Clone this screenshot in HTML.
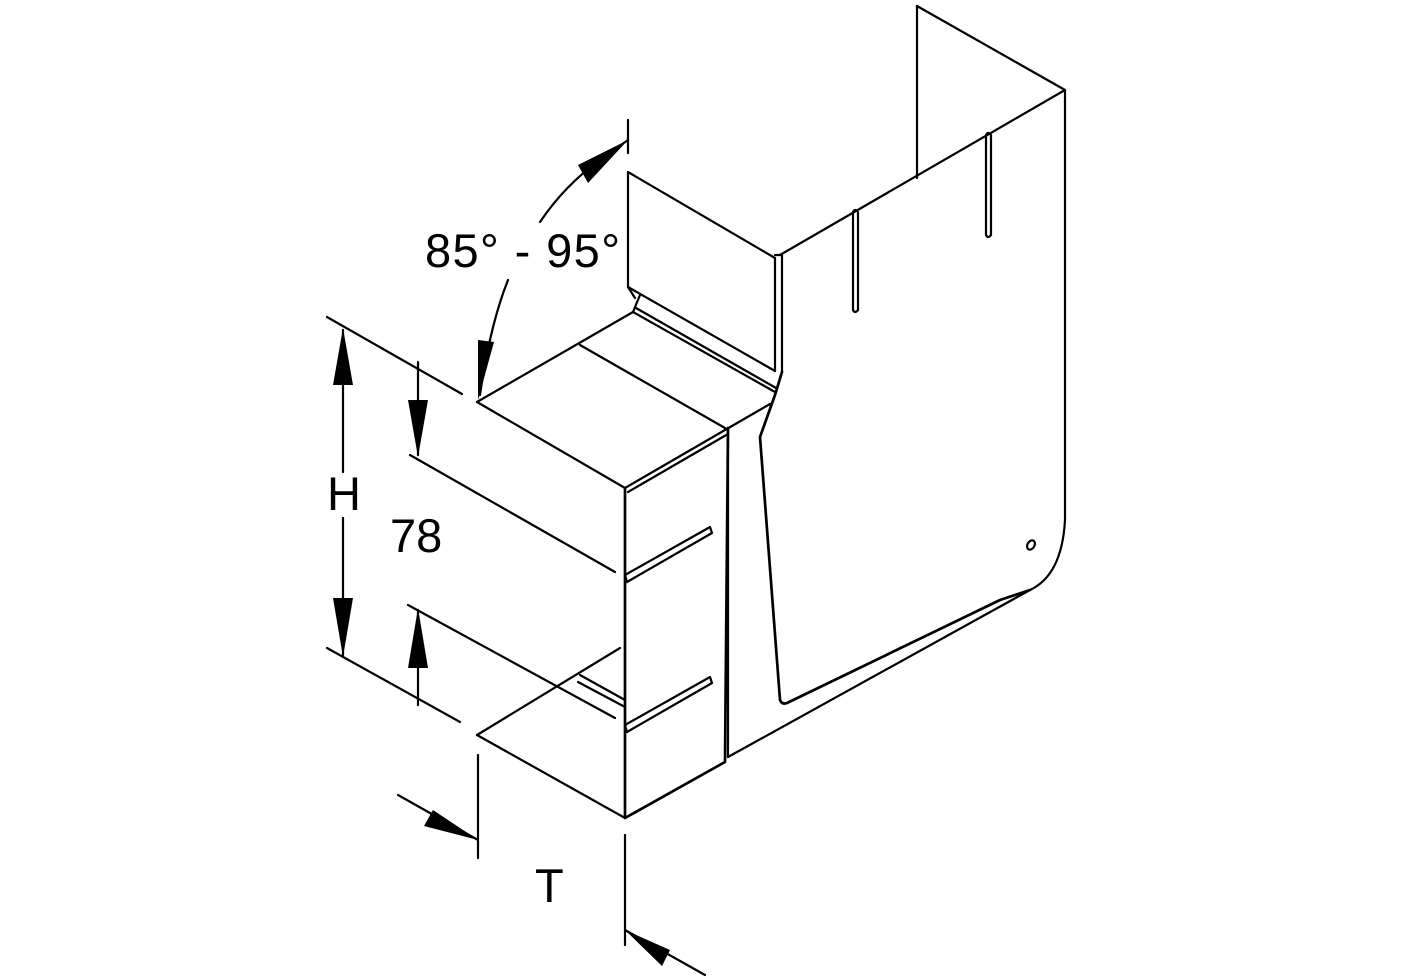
<!DOCTYPE html>
<html><head><style>html,body{margin:0;padding:0;background:#fff}svg{display:block}</style></head><body>
<svg width="1417" height="978" viewBox="0 0 1417 978" xmlns="http://www.w3.org/2000/svg">
<g fill="none" stroke="#000" stroke-width="2.2" stroke-linejoin="round" stroke-linecap="round">
<path d="M917,6 L1065,90 L1065,520 Q1062,575 1030,590 L728,757"/>
<path d="M917,6 L917,178"/>
<path d="M780,255 L1065,90"/>
<path d="M775,258 L628,172 L628,287 L775,371"/>
<path d="M775,258 L775,371 M782,255 L782,372 M775,255 L782,255"/>
<path d="M782,372 L775,395 L760,437 L780,700 Q782,705 787,703 L1000,600 L1030,590" stroke-width="2.7"/>
<path d="M635,298 L628,287 M640,295 L633,312"/>
<path d="M633,312 L775,392 M636,308 L776,388"/>
<path d="M853,212 L853,310 Q855,314 858,310 L858,212 Q855,208 853,212"/>
<path d="M986,135 L986,235 Q988,239 991,235 L991,135 Q988,131 986,135"/>
<ellipse cx="1031" cy="545" rx="3.5" ry="5" transform="rotate(30 1031 545)"/>
<path d="M477,402 L633,312"/>
<path d="M477,402 L625,488 L725,430 L770,404"/>
<path d="M580,345 L725,428"/>
<path d="M628,492 L728,434"/>
<path d="M625,488 L625,818 L725,762 L728,428" stroke-width="2.7"/>
<path d="M728,430 L728,757"/>
<path d="M477,735 L625,818"/>
<path d="M477,735 L620,648"/>
<path d="M580,675 L625,700 M578,682 L625,707"/>
<path d="M625,575 L710,527 L712,533 L627,582 Z"/>
<path d="M625,725 L710,677 L712,683 L627,732 Z"/>
<path d="M327,317 L462,394 M327,648 L460,722 M343,330 L343,472 M343,518 L343,655"/>
<path d="M418,362 L418,455 M410,455 L615,572 M418,610 L418,705 M408,605 L615,718"/>
<path d="M478,755 L478,858 M625,835 L625,945 M398,795 L478,840 M705,975 L625,930"/>
<path d="M628,120 L628,153"/>
<path d="M540,222 Q565,185 600,160 L628,140"/>
<path d="M508,280 Q490,325 480,395"/>
</g>
<g fill="#000" stroke="none">
<polygon points="343,328 333,385 353,385"/>
<polygon points="343,657 333,598 353,598"/>
<polygon points="418,457 408,400 428,400"/>
<polygon points="418,608 408,668 428,668"/>
<polygon points="478,840 433,810 424,826"/>
<polygon points="625,930 670,950 662,966"/>
<polygon points="628,140 578,165 588,183"/>
<polygon points="478,400 478,340 494,342"/>
</g>
<g font-family="'Liberation Sans', Arial, sans-serif" font-size="47" fill="#000">
<text x="425" y="267" textLength="195" lengthAdjust="spacing">85° - 95°</text>
<text x="327" y="510">H</text>
<text x="390" y="552">78</text>
<text x="535" y="902">T</text>
</g>
</svg>
</body></html>
